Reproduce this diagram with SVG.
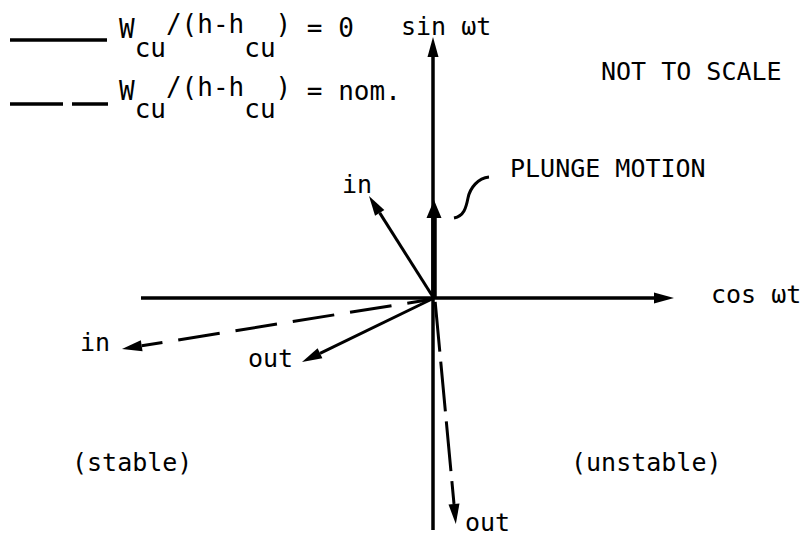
<svg xmlns="http://www.w3.org/2000/svg" width="807" height="538" viewBox="0 0 807 538">
<style>
text{font-family:"DejaVu Sans Mono","Liberation Mono",monospace;font-size:25px;fill:#000}
.leg{font-size:26px}
.ax{stroke:#000;stroke-width:3.5;fill:none}
.v{stroke:#000;stroke-width:3;fill:none}
.d{stroke:#000;stroke-width:3;fill:none}
</style>
<defs>
<marker id="ah" markerUnits="userSpaceOnUse" viewBox="-1 -7 22 14" refX="0" refY="0" markerWidth="22" markerHeight="14" orient="auto">
<path d="M0,-5.5 L20,0 L0,5.5 z" fill="#000"/>
</marker>
<marker id="ahr" markerUnits="userSpaceOnUse" viewBox="-1 -7 22 14" refX="0" refY="0" markerWidth="22" markerHeight="14" orient="auto-start-reverse">
<path d="M0,-5.5 L20,0 L0,5.5 z" fill="#000"/>
</marker>
<marker id="ahb" markerUnits="userSpaceOnUse" viewBox="-1 -9 20 18" refX="0" refY="0" markerWidth="20" markerHeight="18" orient="auto">
<path d="M0,-7.5 L18,0 L0,7.5 z" fill="#000"/>
</marker>
</defs>

<g id="legend">
<line x1="10" y1="40" x2="107" y2="40" stroke="#000" stroke-width="3.3"/>
<line x1="10" y1="104" x2="63" y2="104" stroke="#000" stroke-width="3.3"/>
<line x1="72" y1="104" x2="108" y2="104" stroke="#000" stroke-width="3.3"/>
<text class="leg" x="119" y="38">W<tspan dy="19">cu</tspan><tspan dy="-24">/(h-h</tspan><tspan dy="24">cu</tspan><tspan dy="-24">)</tspan><tspan dy="4"> = 0</tspan></text>
<text class="leg" x="119" y="100">W<tspan dy="18">cu</tspan><tspan dy="-22">/(h-h</tspan><tspan dy="22">cu</tspan><tspan dy="-22">)</tspan><tspan dy="4"> = nom.</tspan></text>
</g>

<g id="connectors">
<line class="ax" x1="433" y1="530" x2="433" y2="57" marker-end="url(#ah)"/>
<line class="ax" x1="141" y1="298" x2="654" y2="298" marker-end="url(#ah)"/>
<line x1="434" y1="299" x2="434" y2="218" stroke="#000" stroke-width="5.5" marker-end="url(#ahb)"/>
<line class="v" x1="433" y1="297" x2="379.7" y2="212.9" marker-end="url(#ah)"/>
<line class="v" x1="432" y1="299" x2="320" y2="353.3" marker-end="url(#ah)"/>
<line class="d" x1="141.7" y1="345.8" x2="430" y2="299.5" stroke-dasharray="42 16" stroke-dashoffset="21" marker-start="url(#ahr)"/>
<line class="d" x1="454" y1="504" x2="435" y2="300" stroke-dasharray="50 10" stroke-dashoffset="27" marker-start="url(#ahr)"/>
<path class="v" stroke-width="2.5" d="M454,218 C464,216 466,208 468,198 C470,188 478,178 489,177"/>
</g>

<g id="labels">
<text x="401" y="35">sin ωt</text>
<text x="601" y="80">NOT TO SCALE</text>
<text x="510" y="177">PLUNGE MOTION</text>
<text x="342" y="193">in</text>
<text x="711" y="303">cos ωt</text>
<text x="80" y="351">in</text>
<text x="248" y="367">out</text>
<text x="465" y="531">out</text>
<text x="72" y="471">(stable)</text>
<text x="571" y="471">(unstable)</text>
</g>
</svg>
